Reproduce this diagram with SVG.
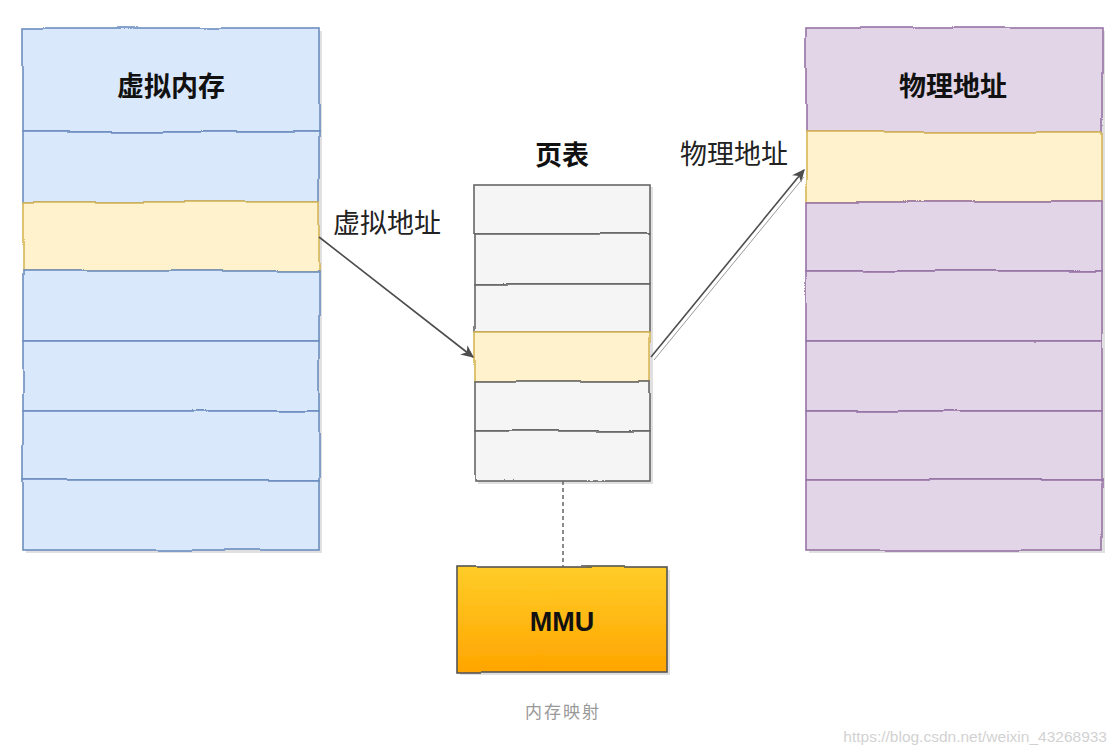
<svg xmlns="http://www.w3.org/2000/svg" width="1117" height="754" viewBox="0 0 1117 754">
  <style>
    .shadow { fill: #000; opacity: 0.12; }
    .blue { fill: #dae8fc; stroke: #6c8ebf; stroke-width: 1.6; }
    .yellow { fill: #fff2cc; stroke: #d6b656; stroke-width: 1.6; }
    .purple { fill: #e1d5e7; stroke: #9673a6; stroke-width: 1.6; }
    .gray { fill: #f5f5f5; stroke: #666666; stroke-width: 1.6; }
    .title { font-family: "Noto Sans CJK SC", "Noto Sans", sans-serif; font-weight: bold; font-size: 27px; fill: #111; text-anchor: middle; dominant-baseline: central; }
    .label { font-family: "Noto Sans CJK SC", "Noto Sans", sans-serif; font-size: 27px; fill: #222; dominant-baseline: central; }
    .conn { fill: none; stroke: #4d4d4d; stroke-width: 1.6; }
  </style>
  <defs>
    <filter id="sketch" x="-5%" y="-5%" width="110%" height="110%">
      <feTurbulence type="fractalNoise" baseFrequency="0.012" numOctaves="1" seed="5" result="n"/>
      <feDisplacementMap in="SourceGraphic" in2="n" scale="4" xChannelSelector="R" yChannelSelector="G"/>
    </filter>
    <linearGradient id="orange" x1="0" y1="0" x2="0" y2="1">
      <stop offset="0" stop-color="#ffcd28"/>
      <stop offset="1" stop-color="#ffa500"/>
    </linearGradient>
    <marker id="arrow" viewBox="0 0 10 10" refX="9" refY="5" markerWidth="13" markerHeight="13" markerUnits="userSpaceOnUse" orient="auto">
      <path d="M0,0.5 L10,5 L0,9.5 L3,5 z" fill="#4d4d4d"/>
    </marker>
  </defs>
  <rect x="0" y="0" width="1117" height="754" fill="#ffffff"/>

  <g id="virtual-memory">
    <rect class="shadow" x="26" y="31" width="296" height="522"/>
    <g filter="url(#sketch)">
      <rect class="blue" x="23" y="28" width="296" height="104"/>
      <rect class="blue" x="23" y="132" width="296" height="70"/>
      <rect class="yellow" x="23" y="202" width="296" height="69"/>
      <rect class="blue" x="23" y="271" width="296" height="70"/>
      <rect class="blue" x="23" y="341" width="296" height="70"/>
      <rect class="blue" x="23" y="411" width="296" height="69"/>
      <rect class="blue" x="23" y="480" width="296" height="70"/>
    </g>
    <text class="title" x="171" y="84">虚拟内存</text>
  </g>

  <g id="physical-memory">
    <rect class="shadow" x="809" y="31" width="296" height="522"/>
    <g filter="url(#sketch)">
      <rect class="purple" x="806" y="28" width="296" height="104"/>
      <rect class="yellow" x="806" y="132" width="296" height="70"/>
      <rect class="purple" x="806" y="202" width="296" height="69"/>
      <rect class="purple" x="806" y="271" width="296" height="70"/>
      <rect class="purple" x="806" y="341" width="296" height="70"/>
      <rect class="purple" x="806" y="411" width="296" height="69"/>
      <rect class="purple" x="806" y="480" width="296" height="70"/>
    </g>
    <text class="title" x="953" y="84">物理地址</text>
  </g>

  <g id="page-table">
    <rect class="shadow" x="478" y="187" width="175" height="297"/>
    <g filter="url(#sketch)">
      <rect class="gray" x="475" y="185" width="175" height="49"/>
      <rect class="gray" x="475" y="234" width="175" height="50"/>
      <rect class="gray" x="475" y="284" width="175" height="48"/>
      <rect class="yellow" x="475" y="332" width="175" height="50"/>
      <rect class="gray" x="475" y="382" width="175" height="49"/>
      <rect class="gray" x="475" y="431" width="175" height="50"/>
    </g>
    <text class="title" x="562" y="153">页表</text>
  </g>

  <g id="mmu">
    <rect class="shadow" x="460" y="570" width="210" height="105"/>
    <rect filter="url(#sketch)" x="457" y="567" width="210" height="105" fill="url(#orange)" stroke="#555555" stroke-width="1.6"/>
    <text x="562" y="622" font-family="Liberation Sans, Arial, sans-serif" font-weight="bold" font-size="27" fill="#111" text-anchor="middle" dominant-baseline="central">MMU</text>
  </g>

  <g id="connectors">
    <path class="conn" d="M319,237 L473,357" marker-end="url(#arrow)"/>
    <path class="conn" d="M651,357 L804,170" marker-end="url(#arrow)"/>
    <path d="M654,360 L804,177" fill="none" stroke="#9a9a9a" stroke-width="1"/>
    <path d="M563,481 L563,567" fill="none" stroke="#666666" stroke-width="1.5" stroke-dasharray="4,3"/>
  </g>

  <g id="edge-labels">
    <text class="label" x="333" y="221">虚拟地址</text>
    <text class="label" x="680" y="152">物理地址</text>
  </g>

  <g id="caption">
    <text x="563" y="710" font-family="Noto Sans CJK SC, Noto Sans, sans-serif" font-size="17" letter-spacing="2" fill="#999999" text-anchor="middle" dominant-baseline="central">内存映射</text>
    <text x="1107" y="736" font-family="Liberation Sans, Arial, sans-serif" font-size="15.5" fill="#d2d2d2" text-anchor="end" dominant-baseline="central">https://blog.csdn.net/weixin_43268933</text>
  </g>
</svg>
